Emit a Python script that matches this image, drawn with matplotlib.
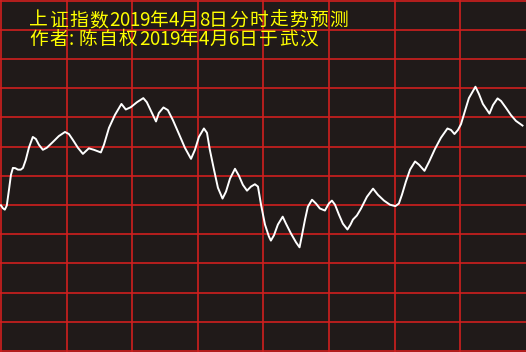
import matplotlib
matplotlib.use("Agg")
import matplotlib.pyplot as plt

# 分时走势预测: time in minutes (0-240), level in grid units (10 per cell)
minutes = [0, 0.9, 1.8, 2.7, 3.7, 4.6, 5.5, 6.6, 7.8, 9.1, 10.1, 11.4, 12.8, 14.6, 16.0, 17.4,
           19.2, 21.0, 23.8, 26.5, 29.3, 31.1, 32.9, 35.2, 37.5, 38.9, 40.2, 42.5, 45.7, 47.1,
           49.4, 52.1, 55.1, 57.1, 59.4, 62.2, 65.1, 66.7, 68.6, 70.9, 72.2, 74.3, 76.3, 78.6,
           81.4, 84.1, 86.9, 88.7, 90.5, 92.8, 94.2, 95.5, 97.4, 99.2, 101.3, 102.9, 104.7,
           107.0, 108.8, 110.6, 112.5, 114.3, 116.1, 117.5, 118.9, 120.7, 122.5, 123.4, 124.8,
           126.6, 128.8, 130.3, 132.6, 134.9, 136.5, 137.6, 139.0, 140.3, 142.2, 144.0, 145.8,
           148.1, 149.9, 151.3, 152.7, 154.5, 156.3, 158.4, 159.8, 160.9, 162.7, 164.6, 167.3,
           170.1, 172.3, 175.1, 177.8, 180.3, 181.9, 183.3, 185.1, 187.0, 189.3, 191.1, 193.6,
           195.7, 198.4, 201.1, 204.1, 205.7, 207.3, 208.9, 210.3, 212.1, 213.9, 216.9, 218.5,
           220.3, 223.3, 224.9, 227.0, 228.6, 230.9, 233.1, 235.4, 238.4]
levels = [49.9, 48.9, 48.4, 49.8, 55.2, 60.3, 62.7, 62.6, 62.1, 62.1, 62.7, 65.5, 69.6, 73.3,
          72.6, 70.6, 68.9, 69.6, 71.6, 73.6, 75.0, 74.3, 72.3, 69.6, 67.5, 68.5, 69.4, 68.9,
          68.0, 70.6, 76.4, 80.8, 84.6, 82.7, 83.5, 85.2, 86.6, 85.2, 82.2, 78.6, 81.5, 83.4,
          82.5, 79.1, 74.3, 69.6, 65.8, 68.9, 73.3, 76.2, 74.7, 68.9, 62.1, 55.9, 52.2, 54.6,
          59.0, 62.4, 60.0, 56.9, 54.9, 56.3, 57.1, 56.3, 50.1, 43.3, 39.2, 37.8, 39.6, 43.3,
          46.0, 43.6, 40.2, 37.2, 35.5, 39.6, 45.0, 49.4, 51.8, 50.5, 48.8, 48.1, 50.5, 51.5,
          50.1, 46.7, 43.6, 41.6, 43.3, 45.0, 46.4, 48.8, 52.8, 55.6, 53.5, 51.5, 50.1, 49.6,
          50.5, 53.5, 58.0, 62.1, 64.9, 63.8, 61.7, 64.8, 69.2, 73.0, 76.2, 75.7, 74.3, 75.7,
          77.7, 82.2, 86.6, 90.5, 88.0, 84.6, 81.3, 84.2, 86.5, 85.6, 83.2, 80.8, 78.8, 77.2]

title_lines = ["上证指数2019年4月8日分时走势预测", "作者:陈自权2019年4月6日于武汉"]

plt.rcParams['font.family'] = ['Noto Sans CJK SC', 'DejaVu Sans']

W, H = 526, 352
fig = plt.figure(figsize=(W / 100, H / 100), dpi=100)
fig.patch.set_facecolor('#201a19')
ax = fig.add_axes([0, 0, 1, 1])
ax.set_facecolor('#201a19')

ax.set_xlim(-0.4, 240.0)
ax.set_ylim(-0.35, 120.2)
ax.set_xticks(range(0, 240, 30))
ax.set_yticks(range(0, 121, 10))
ax.grid(True, color='#d01f1f', lw=1.2)
ax.tick_params(length=0, labelbottom=False, labelleft=False)
for s in ax.spines.values():
    s.set_visible(False)

ax.plot(minutes, levels, color='white', lw=1.4, solid_joinstyle='round')

# monospaced layout like the original Song font: full width for CJK, half for ascii
for line, top in zip(title_lines, [10, 29]):
    x = 29
    for ch in line:
        fig.text(x / W, 1 - top / H, ch, color='#ffff00', fontsize=13.5, va='top')
        x += 10 if ord(ch) < 128 else 20

fig.savefig('out.png', dpi=100, facecolor=fig.get_facecolor())
